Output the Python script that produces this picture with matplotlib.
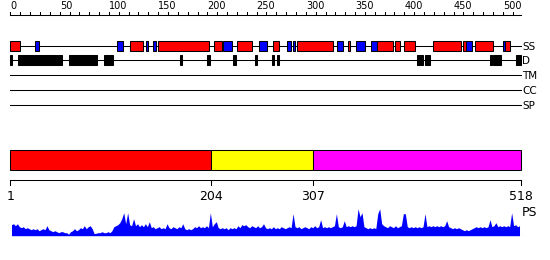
import numpy as np
import matplotlib
matplotlib.use('Agg')
import matplotlib.pyplot as plt

seq_len = 518

# secondary structure segments (start, end) in residues
helix_segs = [(1, 10), (122, 135), (151, 202), (208, 215), (231, 245), (268, 273),
              (292, 328), (344, 345), (373, 389), (392, 396), (401, 411), (430, 458),
              (461, 463), (473, 490), (503, 507)]
strand_segs = [(26, 29), (109, 114), (139, 140), (146, 148), (217, 225), (253, 261),
               (282, 285), (288, 289), (333, 338), (352, 360), (367, 372), (464, 469),
               (501, 502)]

# disordered segments
disorder_segs = [(1, 2), (9, 52), (60, 88), (96, 104), (173, 174), (201, 203),
                 (227, 229), (249, 250), (267, 268), (272, 273), (414, 419),
                 (422, 426), (488, 489), (491, 498), (514, 518)]

# domain boundaries
domain_bounds = [1, 204, 307, 518]
domain_colors = ['#ff0000', '#ffff00', '#ff00ff']

# PS profile, one value every 2 residues (1, 3, ..., 517)
ps_values = [
    11, 12, 10, 12, 9, 8, 9, 7, 8, 7, 6, 7, 6, 7, 5, 6, 7, 6, 10, 6,
    5, 4, 5, 4, 3, 4, 4, 3, 3, 1.5, 4, 5, 7, 5, 6, 8, 7, 10, 7, 9,
    10, 7, 2, 2.5, 3, 3, 4, 3, 3, 4, 3, 5, 9, 10, 11, 13, 17, 23, 12, 23,
    11, 10, 17, 10, 12, 9, 11, 9, 12, 9, 14, 8, 9, 7, 8, 9, 7, 8, 7, 12,
    8, 7, 9, 8, 7, 9, 8, 12, 7, 6, 7, 6, 7, 9, 8, 10, 8, 9, 8, 10,
    8, 23, 9, 12, 14, 8, 7, 8, 7, 8, 6, 8, 7, 8, 7, 10, 8, 11, 10, 11,
    9, 8, 10, 9, 8, 10, 8, 9, 12, 8, 7, 8, 7, 9, 7, 8, 7, 9, 8, 7,
    8, 9, 8, 22, 9, 8, 9, 7, 8, 9, 8, 7, 9, 8, 10, 8, 9, 16, 8, 9,
    8, 9, 8, 9, 10, 22, 9, 8, 9, 15, 9, 10, 9, 10, 9, 10, 27, 19, 23, 9,
    8, 7, 8, 7, 8, 7, 22, 27, 12, 10, 9, 8, 10, 9, 8, 10, 8, 9, 10, 22,
    22, 9, 8, 9, 8, 9, 8, 9, 8, 9, 22, 9, 10, 9, 10, 9, 10, 9, 10, 9,
    10, 15, 9, 8, 7, 8, 7, 8, 7, 6, 5, 6, 5, 6, 7, 8, 9, 8, 9, 8,
    9, 8, 9, 16, 9, 10, 13, 9, 10, 9, 10, 9, 10, 9, 23, 10, 11, 9, 10,
]
ps_pos = np.arange(1, seq_len, 2)

ruler_ticks = list(range(0, 501, 50))
track_names = ['SS', 'D', 'TM', 'CC', 'SP']

# layout (y in pixels from top)
W, H = 550, 260
px_per_res = 510 / seq_len
x_left = -10.5 / px_per_res
x_right = (W - 10.5) / px_per_res
row_y = {'SS': 45.7, 'D': 60.3, 'TM': 75.3, 'CC': 90.0, 'SP': 105.3}
lw = 0.75

fig = plt.figure(figsize=(W / 100, H / 100), dpi=100)
ax = fig.add_axes([0, 0, 1, 1])
ax.set_xlim(x_left, x_right)
ax.set_ylim(H, 0)
ax.axis('off')

# top ruler
ax.plot([0, seq_len], [14.7, 14.7], color='black', lw=lw)
for t in range(0, seq_len, 10):
    ax.plot([t, t], [14.7, 11.7], color='black', lw=lw)
for t in ruler_ticks:
    ax.text(t, 9.2, str(t), ha='left', va='baseline', fontsize=7, color='black')

# track lines and labels
for name in track_names:
    y = row_y[name]
    ax.plot([0, seq_len], [y, y], color='black', lw=lw, zorder=1)
    ax.text(seq_len + 1.5, y + 3.8, name, ha='left', va='baseline', fontsize=7.5)

for s, e in helix_segs:
    ax.barh(row_y['SS'], e - s + 1, left=s - 1, height=10, color='#ff0000',
            edgecolor='black', linewidth=lw, zorder=2)
for s, e in strand_segs:
    ax.barh(row_y['SS'], e - s + 1, left=s - 1, height=10, color='#0000ff',
            edgecolor='black', linewidth=lw, zorder=2)
for s, e in disorder_segs:
    ax.barh(row_y['D'], e - s + 1, left=s - 1, height=10, color='black',
            edgecolor='black', linewidth=lw, zorder=2)

# domain bar
for i in range(len(domain_colors)):
    left = domain_bounds[i] - 1 if i == 0 else domain_bounds[i]
    ax.barh(160.3, domain_bounds[i + 1] - left, left=left, height=20,
            color=domain_colors[i], edgecolor='black', linewidth=lw)

# domain ruler
ax.plot([0, seq_len], [180.3, 180.3], color='black', lw=lw)
for i, b in enumerate(domain_bounds):
    xb = b - 1 if i == 0 else b
    ax.plot([xb, xb], [180.3, 185], color='black', lw=lw)
    ax.text(xb, 200, str(b), ha='center', va='baseline', fontsize=9)
ax.text(seq_len + 1.5, 216, 'PS', ha='left', va='baseline', fontsize=9)

# PS profile
pax = fig.add_axes([0, (H - 235.7) / H, 1, 30 / H])
pax.set_xlim(x_left, x_right)
pax.set_ylim(0, 30)
pax.axis('off')
pax.fill_between(ps_pos, 0, ps_values, color='#0000ff', lw=0)
pax.plot([0, seq_len + 4], [0, 0], color='#0000ff', lw=lw)

plt.savefig('out.png', dpi=100)
plt.close()
